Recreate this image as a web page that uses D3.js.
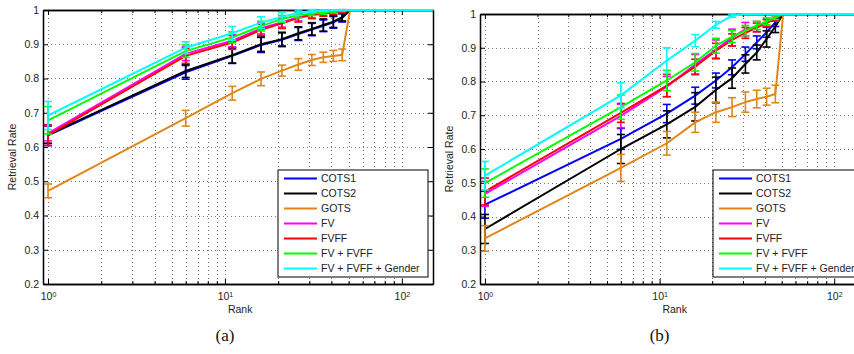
<!DOCTYPE html>
<html>
<head>
<meta charset="utf-8">
<script src="https://cdn.jsdelivr.net/npm/d3@7"></script>
<style>
  body { margin: 0; background: #fff; }
  svg { display: block; }
</style>
</head>
<body>
<div id="chart"></div>
<script>
var width = 854, height = 354;

// ranks where the curves were sampled
var ranks = [1, 6, 11, 16, 21, 26, 31, 36, 41, 46, 51, 150];
var seriesNames = ["COTS1", "COTS2", "GOTS", "FV", "FVFF", "FV + FVFF", "FV + FVFF + Gender"];
var seriesColors = ["#0000ff", "#000000", "#e0861a", "#ff00ff", "#ff0000", "#00ff00", "#00ffff"];
var yTicks = [0.2, 0.3, 0.4, 0.5, 0.6, 0.7, 0.8, 0.9, 1];
var xMajor = [1, 10, 100];
var xMinor = [2, 3, 4, 5, 6, 7, 8, 9, 20, 30, 40, 50, 60, 70, 80, 90];

// panel (a)
var aCOTS1 = [0.634, 0.818, 0.866, 0.898, 0.913, 0.930, 0.943, 0.954, 0.964, 0.977, 1, 1];
var aCOTS1Err = [0.03, 0.02, 0.022, 0.022, 0.02, 0.019, 0.018, 0.017, 0.017, 0.012, 0, 0];
var aCOTS2 = [0.636, 0.822, 0.868, 0.900, 0.915, 0.932, 0.945, 0.956, 0.966, 0.979, 1, 1];
var aCOTS2Err = [0.025, 0.019, 0.023, 0.021, 0.02, 0.019, 0.018, 0.018, 0.017, 0.011, 0, 0];
var aGOTS = [0.472, 0.684, 0.757, 0.799, 0.823, 0.841, 0.854, 0.862, 0.866, 0.869, 1, 1];
var aGOTSErr = [0.02, 0.023, 0.02, 0.02, 0.016, 0.017, 0.016, 0.015, 0.016, 0.017, 0, 0];
var aFV = [0.640, 0.872, 0.910, 0.946, 0.964, 0.980, 0.987, 0.991, 0.994, 0.997, 1, 1];
var aFVErr = [0.022, 0.02, 0.018, 0.016, 0.014, 0.012, 0.01, 0.008, 0.006, 0.004, 0, 0];
var aFVFF = [0.635, 0.866, 0.905, 0.942, 0.961, 0.977, 0.985, 0.990, 0.993, 0.996, 1, 1];
var aFVFFErr = [0.03, 0.022, 0.02, 0.016, 0.015, 0.012, 0.01, 0.008, 0.006, 0.004, 0, 0];
var aFVFVFF = [0.678, 0.880, 0.920, 0.953, 0.974, 0.985, 0.990, 0.993, 0.996, 0.998, 1, 1];
var aFVFVFFErr = [0.04, 0.018, 0.016, 0.014, 0.01, 0.008, 0.006, 0.005, 0.004, 0.002, 0, 0];
var aGender = [0.692, 0.890, 0.932, 0.963, 0.980, 0.992, 0.997, 0.998, 1, 1, 1, 1];
var aGenderErr = [0.041, 0.017, 0.02, 0.017, 0.013, 0.008, 0.004, 0.002, 0, 0, 0, 0];

// panel (b)
var bCOTS1 = [0.435, 0.630, 0.705, 0.758, 0.803, 0.842, 0.881, 0.916, 0.946, 0.975, 1, 1];
var bCOTS1Err = [0.04, 0.031, 0.027, 0.025, 0.022, 0.022, 0.021, 0.019, 0.015, 0.012, 0, 0];
var bCOTS2 = [0.363, 0.600, 0.673, 0.725, 0.775, 0.810, 0.852, 0.886, 0.926, 0.963, 1, 1];
var bCOTS2Err = [0.043, 0.043, 0.04, 0.042, 0.038, 0.03, 0.027, 0.022, 0.024, 0.018, 0, 0];
var bGOTS = [0.335, 0.544, 0.617, 0.679, 0.709, 0.724, 0.739, 0.748, 0.755, 0.763, 1, 1];
var bGOTSErr = [0.038, 0.04, 0.035, 0.03, 0.03, 0.028, 0.03, 0.026, 0.025, 0.026, 0, 0];
var bFV = [0.467, 0.698, 0.785, 0.850, 0.895, 0.930, 0.955, 0.963, 0.975, 0.988, 1, 1];
var bFVErr = [0.037, 0.035, 0.03, 0.03, 0.028, 0.025, 0.02, 0.015, 0.012, 0.008, 0, 0];
var bFVFF = [0.474, 0.707, 0.788, 0.844, 0.891, 0.923, 0.944, 0.960, 0.973, 0.987, 1, 1];
var bFVFFErr = [0.04, 0.028, 0.033, 0.022, 0.022, 0.018, 0.016, 0.013, 0.01, 0.008, 0, 0];
var bFVFVFF = [0.499, 0.724, 0.803, 0.857, 0.906, 0.933, 0.951, 0.966, 0.978, 0.990, 1, 1];
var bFVFVFFErr = [0.042, 0.036, 0.03, 0.026, 0.022, 0.018, 0.015, 0.012, 0.01, 0.006, 0, 0];
var bGender = [0.521, 0.759, 0.862, 0.921, 0.968, 0.995, 1, 1, 1, 1, 1, 1];
var bGenderErr = [0.042, 0.037, 0.038, 0.018, 0.01, 0.005, 0, 0, 0, 0, 0, 0];

var panels = [
  { id: "a", label: "(a)", left: 43, right: 433, top: 10, bottom: 284, legendX: 278, legendY: 170,
    values: [aCOTS1, aCOTS2, aGOTS, aFV, aFVFF, aFVFVFF, aGender],
    errors: [aCOTS1Err, aCOTS2Err, aGOTSErr, aFVErr, aFVFFErr, aFVFVFFErr, aGenderErr] },
  { id: "b", label: "(b)", left: 480, right: 865, top: 14, bottom: 284, legendX: 713, legendY: 170,
    values: [bCOTS1, bCOTS2, bGOTS, bFV, bFVFF, bFVFVFF, bGender],
    errors: [bCOTS1Err, bCOTS2Err, bGOTSErr, bFVErr, bFVFFErr, bFVFVFFErr, bGenderErr] }
];

var svg = d3.select("#chart").append("svg")
  .attr("width", width)
  .attr("height", height);

svg.append("rect").attr("width", width).attr("height", height).attr("fill", "#fff");

var font = "Liberation Sans, Arial, Helvetica, sans-serif";

panels.forEach(function(p) {
  var x = d3.scaleLog().domain([0.937, 150]).range([p.left, p.right]);
  var y = d3.scaleLinear().domain([0.2, 1]).range([p.bottom, p.top]);
  var g = svg.append("g");

  // grid
  var grid = g.append("g")
    .attr("stroke", "#555")
    .attr("stroke-width", 0.8)
    .attr("stroke-dasharray", "1,3");
  grid.selectAll("line.gx")
    .data(xMajor.concat(xMinor))
    .enter().append("line")
    .attr("x1", function(d) { return Math.round(x(d)) + 0.5; })
    .attr("x2", function(d) { return Math.round(x(d)) + 0.5; })
    .attr("y1", p.top)
    .attr("y2", p.bottom);
  grid.selectAll("line.gy")
    .data(yTicks.slice(1, -1))
    .enter().append("line")
    .attr("x1", p.left)
    .attr("x2", p.right)
    .attr("y1", function(d) { return Math.round(y(d)) + 0.5; })
    .attr("y2", function(d) { return Math.round(y(d)) + 0.5; });

  // axes (ticks pointing inwards, box on)
  var xb = g.append("g").attr("transform", "translate(0," + p.bottom + ")")
    .call(d3.axisBottom(x).tickValues(xMajor).tickSizeInner(-5).tickSizeOuter(0).tickPadding(9)
      .tickFormat(function(d) { return "10"; }));
  xb.selectAll(".tick text").append("tspan")
    .attr("font-size", 7)
    .attr("dy", "-0.55em")
    .text(function(d) { return Math.round(Math.log10(d)); });
  g.append("g").attr("transform", "translate(0," + p.bottom + ")")
    .call(d3.axisBottom(x).tickValues(xMinor).tickSizeInner(-3).tickSizeOuter(0).tickFormat(""));
  g.append("g").attr("transform", "translate(0," + p.top + ")")
    .call(d3.axisTop(x).tickValues(xMajor).tickSizeInner(-5).tickSizeOuter(0).tickFormat(""));
  g.append("g").attr("transform", "translate(0," + p.top + ")")
    .call(d3.axisTop(x).tickValues(xMinor).tickSizeInner(-3).tickSizeOuter(0).tickFormat(""));
  g.append("g").attr("transform", "translate(" + p.left + ",0)")
    .call(d3.axisLeft(y).tickValues(yTicks).tickSizeInner(-5).tickSizeOuter(0).tickPadding(4)
      .tickFormat(function(d) { return d === 1 ? "1" : d.toFixed(1); }));
  g.append("g").attr("transform", "translate(" + p.right + ",0)")
    .call(d3.axisRight(y).tickValues(yTicks).tickSizeInner(-5).tickSizeOuter(0).tickFormat(""));

  g.selectAll(".domain").attr("stroke", "#000").attr("stroke-width", 1.5);
  g.selectAll(".tick line").attr("stroke", "#000").attr("stroke-width", 1);
  g.selectAll("g").attr("font-family", null);
  g.selectAll(".tick text").style("font-family", font).attr("font-size", 10.5).attr("fill", "#222");

  // axis labels
  g.append("text")
    .attr("x", x(12.2))
    .attr("y", 313)
    .attr("text-anchor", "middle")
    .style("font-family", font)
    .attr("font-size", 10.5)
    .attr("fill", "#222")
    .text("Rank");
  g.append("text")
    .attr("transform", "translate(" + (p.left - 27) + "," + ((p.top + p.bottom) / 2 + 10) + ") rotate(-90)")
    .attr("text-anchor", "middle")
    .style("font-family", font)
    .attr("font-size", 10.5)
    .attr("fill", "#222")
    .text("Retrieval Rate");
  g.append("text")
    .attr("x", x(10))
    .attr("y", 341)
    .attr("text-anchor", "middle")
    .style("font-family", "Liberation Serif, Times New Roman, serif")
    .attr("font-size", 17)
    .attr("fill", "#111")
    .text(p.label);

  // curves with error bars
  svg.append("clipPath").attr("id", "clip-" + p.id)
    .append("rect")
    .attr("x", p.left).attr("y", p.top - 3)
    .attr("width", p.right - p.left).attr("height", p.bottom - p.top + 3);

  var plot = g.append("g").attr("clip-path", "url(#clip-" + p.id + ")");
  var line = d3.line()
    .x(function(d) { return x(d.rank); })
    .y(function(d) { return y(d.v); });

  p.values.forEach(function(vals, si) {
    var pts = ranks.map(function(r, i) { return { rank: r, v: vals[i], e: p.errors[si][i] }; });
    var s = plot.append("g").attr("stroke", seriesColors[si]).attr("fill", "none");
    s.append("path").datum(pts).attr("d", line).attr("stroke-width", 2);
    var eb = s.selectAll("g.eb")
      .data(pts.filter(function(d) { return d.e > 0; }))
      .enter().append("g")
      .attr("stroke-width", 1.6);
    eb.append("line")
      .attr("x1", function(d) { return x(d.rank); })
      .attr("x2", function(d) { return x(d.rank); })
      .attr("y1", function(d) { return y(d.v - d.e); })
      .attr("y2", function(d) { return y(d.v + d.e); });
    [-1, 1].forEach(function(sign) {
      eb.append("line")
        .attr("x1", function(d) { return x(d.rank) - 4; })
        .attr("x2", function(d) { return x(d.rank) + 4; })
        .attr("y1", function(d) { return y(d.v + sign * d.e); })
        .attr("y2", function(d) { return y(d.v + sign * d.e); });
    });
  });

  // legend
  var lg = g.append("g").attr("transform", "translate(" + p.legendX + "," + p.legendY + ")");
  lg.append("rect")
    .attr("x", 0).attr("y", 0)
    .attr("width", 150).attr("height", 107)
    .attr("fill", "#fff")
    .attr("stroke", "#000")
    .attr("stroke-width", 1);
  var items = lg.selectAll("g.item")
    .data(seriesNames)
    .enter().append("g")
    .attr("transform", function(d, i) { return "translate(0," + (8.5 + i * 15) + ")"; });
  items.append("line")
    .attr("x1", 6).attr("x2", 39)
    .attr("stroke", function(d, i) { return seriesColors[i]; })
    .attr("stroke-width", 2);
  items.append("text")
    .attr("x", 43)
    .attr("dy", "0.35em")
    .style("font-family", font)
    .attr("font-size", 10.5)
    .attr("fill", "#222")
    .text(function(d) { return d; });
});
</script>
</body>
</html>
